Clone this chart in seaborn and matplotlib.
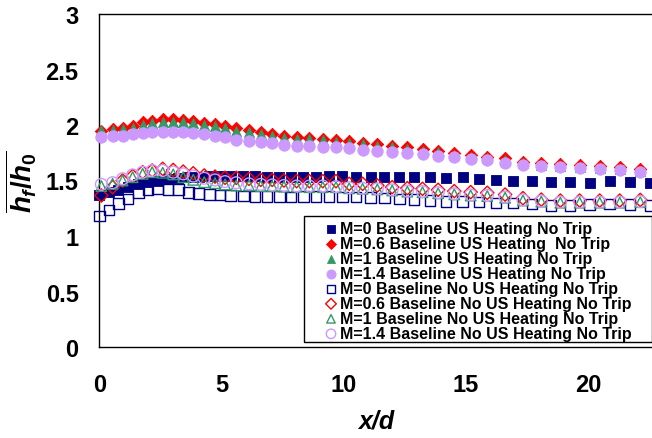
import matplotlib
matplotlib.use("Agg")
import matplotlib.pyplot as plt
from matplotlib.patches import Rectangle
import seaborn as sns
import pandas as pd

# Streamwise stations (x/d) for the M=0 runs and for the blowing runs
x_m0 = [0.0, 0.39, 0.77, 1.17, 1.59, 1.99, 2.38, 2.81, 3.23, 3.65,
        4.06, 4.50, 4.93, 5.37, 5.89, 6.37, 6.85, 7.36, 7.84, 8.34,
        8.86, 9.39, 9.94, 10.50, 11.10, 11.66, 12.27, 12.88, 13.53, 14.18,
        14.86, 15.54, 16.23, 16.93, 17.70, 18.47, 19.26, 20.06, 20.88, 21.71,
        22.52]
x_blow = [0.08, 0.54, 0.95, 1.36, 1.77, 2.16, 2.59, 3.02, 3.43, 3.84,
          4.29, 4.73, 5.14, 5.60, 6.12, 6.60, 7.07, 7.55, 8.07, 8.59,
          9.14, 9.68, 10.22, 10.77, 11.37, 11.98, 12.60, 13.22, 13.86, 14.52,
          15.19, 15.87, 16.60, 17.33, 18.08, 18.86, 19.65, 20.47, 21.29, 22.13]

# Laterally averaged heat transfer augmentation, with upstream heating
m0_us = [1.37, 1.395, 1.415, 1.44, 1.465, 1.485, 1.50, 1.515, 1.525, 1.53,
         1.535, 1.537, 1.54, 1.545, 1.545, 1.54, 1.536, 1.53, 1.53, 1.53,
         1.536, 1.545, 1.545, 1.536, 1.536, 1.53, 1.536, 1.536, 1.53, 1.524,
         1.53, 1.515, 1.506, 1.492, 1.494, 1.485, 1.485, 1.479, 1.494, 1.485,
         1.479]
m06_us = [1.95, 1.965, 1.975, 1.995, 2.025, 2.04, 2.05, 2.055, 2.047, 2.04,
          2.02, 2.01, 1.99, 1.97, 1.957, 1.936, 1.92, 1.90, 1.89, 1.885,
          1.878, 1.866, 1.855, 1.84, 1.83, 1.815, 1.80, 1.785, 1.77, 1.745,
          1.73, 1.715, 1.70, 1.67, 1.655, 1.645, 1.637, 1.628, 1.62, 1.605]
m1_us = [1.955, 1.955, 1.96, 1.975, 2.0, 2.015, 2.025, 2.03, 2.025, 2.015,
         2.0, 1.99, 1.97, 1.95, 1.94, 1.92, 1.905, 1.885, 1.875, 1.87,
         1.862, 1.85, 1.84, 1.825, 1.815, 1.80, 1.785, 1.77, 1.755, 1.73,
         1.715, 1.70, 1.685, 1.655, 1.64, 1.63, 1.622, 1.614, 1.606, 1.59]
m14_us = [1.89, 1.905, 1.905, 1.915, 1.927, 1.936, 1.94, 1.94, 1.94, 1.93,
          1.915, 1.905, 1.89, 1.868, 1.86, 1.85, 1.837, 1.824, 1.815, 1.81,
          1.806, 1.80, 1.794, 1.776, 1.77, 1.756, 1.75, 1.74, 1.725, 1.716,
          1.695, 1.686, 1.656, 1.641, 1.629, 1.62, 1.614, 1.602, 1.596, 1.576]

# Same runs without upstream heating
m0_nous = [1.18, 1.235, 1.295, 1.335, 1.39, 1.415, 1.43, 1.42, 1.42, 1.39,
           1.385, 1.375, 1.37, 1.365, 1.36, 1.355, 1.355, 1.355, 1.35, 1.355,
           1.355, 1.355, 1.35, 1.35, 1.348, 1.344, 1.335, 1.328, 1.319, 1.313,
           1.31, 1.305, 1.298, 1.296, 1.29, 1.274, 1.274, 1.283, 1.29, 1.283,
           1.274]
m06_nous = [1.365, 1.44, 1.50, 1.54, 1.575, 1.59, 1.605, 1.595, 1.58, 1.565,
            1.545, 1.535, 1.525, 1.524, 1.515, 1.506, 1.506, 1.50, 1.494, 1.494,
            1.494, 1.494, 1.47, 1.47, 1.455, 1.44, 1.431, 1.425, 1.416, 1.404,
            1.395, 1.389, 1.373, 1.341, 1.328, 1.319, 1.319, 1.319, 1.319, 1.325]
m1_nous = [1.45, 1.47, 1.50, 1.53, 1.56, 1.575, 1.57, 1.555, 1.53, 1.506,
           1.485, 1.476, 1.464, 1.455, 1.455, 1.45, 1.45, 1.445, 1.445, 1.44,
           1.44, 1.44, 1.43, 1.425, 1.42, 1.41, 1.40, 1.395, 1.385, 1.375,
           1.365, 1.36, 1.345, 1.32, 1.31, 1.30, 1.30, 1.30, 1.30, 1.305]
m14_nous = [1.465, 1.48, 1.515, 1.55, 1.575, 1.59, 1.59, 1.575, 1.56, 1.54,
            1.52, 1.505, 1.49, 1.48, 1.47, 1.465, 1.46, 1.455, 1.45, 1.45,
            1.45, 1.445, 1.435, 1.43, 1.425, 1.415, 1.405, 1.40, 1.39, 1.38,
            1.37, 1.365, 1.35, 1.325, 1.315, 1.305, 1.305, 1.305, 1.305, 1.31]

labels = [
    "M=0 Baseline US Heating No Trip",
    "M=0.6 Baseline US Heating  No Trip",
    "M=1 Baseline US Heating No Trip",
    "M=1.4 Baseline US Heating No Trip",
    "M=0 Baseline No US Heating No Trip",
    "M=0.6 Baseline No US Heating No Trip",
    "M=1 Baseline No US Heating No Trip",
    "M=1.4 Baseline No US Heating No Trip",
]
x_ticks = [0, 5, 10, 15, 20]
y_ticks = [0, 0.5, 1, 1.5, 2, 2.5, 3]
y_tick_labels = ["0", "0.5", "1", "1.5", "2", "2.5", "3"]

sns.set_theme(style="white")
plt.rcParams["font.family"] = ["Liberation Sans", "DejaVu Sans"]
plt.rcParams["mathtext.fontset"] = "custom"
plt.rcParams["mathtext.it"] = "Liberation Sans:italic:bold"
plt.rcParams["mathtext.rm"] = "Liberation Sans:bold"
plt.rcParams["text.color"] = "black"
plt.rcParams["axes.labelcolor"] = "black"
plt.rcParams["xtick.color"] = "black"
plt.rcParams["ytick.color"] = "black"

NAVY, RED, GREEN, LILAC = "#000080", "#FF0000", "#339966", "#CC99FF"

series = [
    (x_m0, m0_us, "s", 48, NAVY, True),
    (x_blow, m06_us, "D", 40, RED, True),
    (x_blow, m1_us, "^", 52, GREEN, True),
    (x_blow, m14_us, "o", 68, LILAC, True),
    (x_m0, m0_nous, "s", 58, NAVY, False),
    (x_blow, m06_nous, "D", 46, RED, False),
    (x_blow, m1_nous, "^", 58, GREEN, False),
    (x_blow, m14_nous, "o", 72, LILAC, False),
]

fig = plt.figure(figsize=(6.52, 4.39), dpi=100)
ax = fig.add_axes([99.4 / 652, 91 / 439, 1 - 99.4 / 652, 333 / 439])

for (xs, ys, mk, size, col, filled), lab in zip(series, labels):
    df = pd.DataFrame({"x": xs, "y": ys})
    if filled:
        sns.scatterplot(data=df, x="x", y="y", ax=ax, marker=mk, s=size,
                        color=col, edgecolor=col, linewidth=0.6,
                        label=lab, clip_on=False, zorder=3)
    else:
        sns.scatterplot(data=df, x="x", y="y", ax=ax, marker=mk, s=size,
                        facecolors="none", edgecolor=col, linewidth=1.0,
                        label=lab, clip_on=False, zorder=3)

ax.set_xlim(0, 22.61)
ax.set_ylim(0, 3)
ax.set_xticks(x_ticks)
ax.set_xticklabels([str(t) for t in x_ticks])
ax.set_yticks(y_ticks)
ax.set_yticklabels(y_tick_labels)

for side in ("left", "bottom", "top"):
    ax.spines[side].set_color("black")
    ax.spines[side].set_linewidth(1.0)
ax.spines["right"].set_visible(False)

ax.tick_params(axis="both", which="major", direction="out", length=8, width=1,
               color="#444444", labelcolor="black", labelsize=17)
ax.tick_params(axis="x", pad=11)
ax.tick_params(axis="y", pad=7)
ax.tick_params(top=False, right=False)
for t in ax.get_xticklabels() + ax.get_yticklabels():
    t.set_fontweight("bold")

ax.set_xlabel("x/d", fontsize=18, fontweight="bold", fontstyle="italic",
              labelpad=9, color="black")
ax.set_ylabel(r"$\overline{h_f/h_0}$", fontsize=20, labelpad=5, color="black")

# Legend entries without their own frame; an opaque box sits behind them
leg = ax.legend(loc="upper left", bbox_to_anchor=(323 / 652, 1 - 222 / 439),
                bbox_transform=fig.transFigure, borderaxespad=0.0, borderpad=0.0,
                frameon=False,
                prop={"family": "Liberation Sans", "weight": "bold", "size": 11.5},
                labelspacing=0.0, handletextpad=0.08, handlelength=1.0,
                markerscale=0.8)
for txt in leg.get_texts():
    txt.set_color("black")
leg.set_zorder(6)

box = Rectangle((304 / 652, 1 - 343.3 / 439), (651.5 - 304) / 652,
                (343.3 - 216.7) / 439, transform=fig.transFigure,
                facecolor="white", edgecolor="black", linewidth=1.0,
                clip_on=False, zorder=5)
ax.add_patch(box)

fig.savefig("out.png", dpi=100)
